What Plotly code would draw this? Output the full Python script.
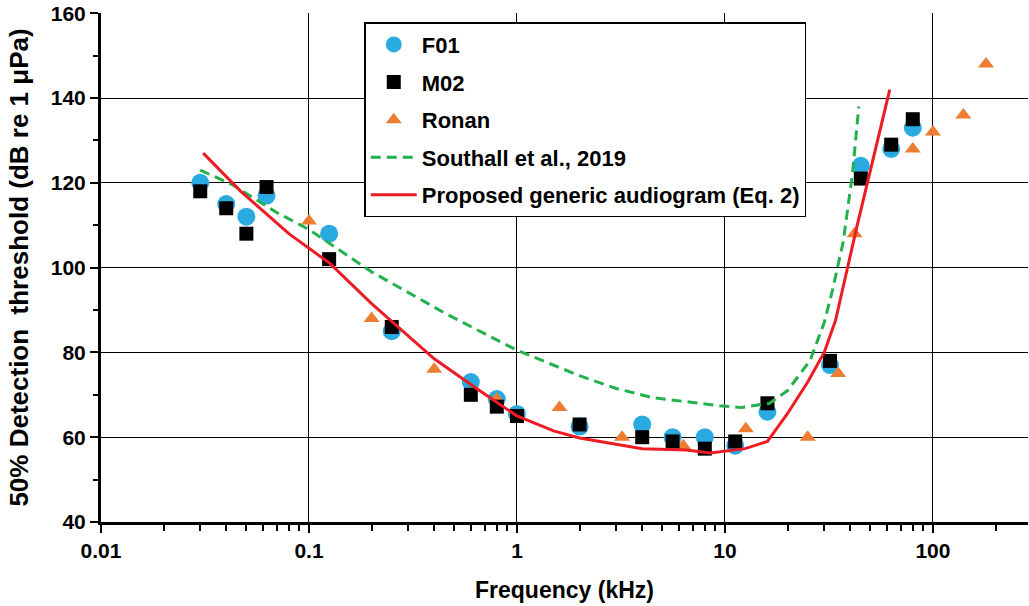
import plotly.graph_objects as go

# ---- data ----
f01_f = [0.03, 0.04, 0.05, 0.0625, 0.125, 0.25, 0.6, 0.8, 1.0, 2.0, 4.0, 5.6, 8.0, 11.2, 16.0, 32.0, 45.0, 63.0, 80.0]
f01_db = [120, 115, 112, 117, 108, 85, 73, 69, 65.5, 62.5, 63, 60, 60, 58, 66, 77, 124, 128, 133]

m02_f = [0.03, 0.04, 0.05, 0.0625, 0.125, 0.25, 0.6, 0.8, 1.0, 2.0, 4.0, 5.6, 8.0, 11.2, 16.0, 32.0, 45.0, 63.0, 80.0]
m02_db = [118, 114, 108, 119, 102, 86, 70, 67.2, 65, 63, 60, 59, 57.3, 59, 68, 78, 121, 129, 135]

ronan_f = [0.1, 0.2, 0.4, 0.8, 1.6, 3.2, 6.3, 12.6, 25, 35, 42, 80, 100, 140, 180]
ronan_db = [111, 88, 76, 69, 67, 60, 58, 62, 60, 75, 108, 128, 132, 136, 148]

southall_f = [0.03, 0.043, 0.07, 0.1, 0.2, 0.46, 1.0, 2.0, 3.0, 4.5, 7.0, 9.4, 12.0, 16.4, 20.0, 25.6, 30.0, 33.0, 37.0, 41.0, 44.0]
southall_db = [123, 119.5, 113, 109, 99, 89, 80.5, 74.5, 71.5, 69.3, 68.2, 67.4, 67, 68, 71, 78, 87, 95, 106, 122, 138]

proposed_f = [0.031, 0.047, 0.08, 0.126, 0.2, 0.4, 0.66, 1.0, 1.5, 2.0, 4.0, 6.5, 8.5, 12.5, 16.0, 20.0, 25.0, 30.0, 34.0, 43.0, 62.0]
proposed_db = [127, 118, 108, 101, 91.5, 78.5, 71, 65, 61.5, 59.8, 57.3, 57, 56.3, 57.3, 59, 65.6, 73, 80, 87.5, 109.5, 142]

x_tickvals = [0.01, 0.1, 1, 10, 100]
x_ticktext = ["0.01", "0.1", "1", "10", "100"]
x_minorvals = [m * d for d in (0.01, 0.1, 1, 10, 100) for m in range(2, 10)]
y_tickvals = [40, 60, 80, 100, 120, 140, 160]
y_minorvals = [50, 70, 90, 110, 130, 150]

FONT = "Liberation Sans"
fig = go.Figure()

fig.add_trace(go.Scatter(x=f01_f, y=f01_db, mode="markers", name="<b>F01</b>",
                         marker=dict(symbol="circle", size=18, color="#29ABE2"),
                         legendrank=1, legendgroup="a"))
fig.add_trace(go.Scatter(x=ronan_f, y=ronan_db, mode="markers", name="<b>Ronan</b>",
                         marker=dict(symbol="triangle-up", size=14, color="#ED7D31"),
                         legendrank=3, legendgroup="c"))
fig.add_trace(go.Scatter(x=m02_f, y=m02_db, mode="markers", name="<b>M02</b>",
                         marker=dict(symbol="square", size=14, color="black"),
                         legendrank=2, legendgroup="b"))
fig.add_trace(go.Scatter(x=southall_f, y=southall_db, mode="lines", name="<b>Southall et al., 2019</b>",
                         line=dict(color="#22B14C", width=3, dash="10px,6px"),
                         legendrank=4, legendgroup="d"))
fig.add_trace(go.Scatter(x=proposed_f, y=proposed_db, mode="lines", name="<b>Proposed generic audiogram (Eq. 2)</b>",
                         line=dict(color="#ED1C24", width=3),
                         legendrank=5, legendgroup="e"))

fig.update_layout(
    width=1029, height=606,
    margin=dict(l=101, r=1, t=13, b=84),
    paper_bgcolor="white", plot_bgcolor="white",
    font=dict(family=FONT, size=21, color="black"),
    showlegend=True,
    legend=dict(x=0.284, y=0.982, xanchor="left", yanchor="top",
                bgcolor="white", bordercolor="black", borderwidth=1.5,
                font=dict(family=FONT, size=22, color="black"),
                tracegroupgap=6, itemwidth=46,
                traceorder="grouped"),
)

fig.update_xaxes(
    type="log", range=[-2, 2.457], automargin=False,
    tickvals=x_tickvals, ticktext=x_ticktext,
    tickfont=dict(family=FONT, size=21, color="black", weight="bold"),
    showgrid=True, gridcolor="black", gridwidth=1,
    showline=True, linecolor="black", linewidth=3,
    ticks="outside", ticklen=8, tickwidth=2, tickcolor="black",
    minor=dict(tickmode="array", tickvals=x_minorvals, ticks="outside", ticklen=6, tickwidth=2,
               tickcolor="black", showgrid=False),
    zeroline=False,
    title=dict(text="<b>Frequency (kHz)</b>", font=dict(family=FONT, size=23, color="black"), standoff=21),
)
fig.update_yaxes(
    range=[40, 160.05], automargin=False,
    tickvals=y_tickvals, ticklabeloverflow="allow",
    tickfont=dict(family=FONT, size=21, color="black", weight="bold"),
    showgrid=True, gridcolor="black", gridwidth=1,
    showline=True, linecolor="black", linewidth=3,
    ticks="outside", ticklen=8, tickwidth=2, tickcolor="black",
    minor=dict(tickmode="array", tickvals=y_minorvals, ticks="outside", ticklen=5, tickwidth=2,
               tickcolor="black", showgrid=False),
    zeroline=False,
    title=dict(text="<b>50% Detection  threshold (dB re 1 μPa)</b>", font=dict(family=FONT, size=26, color="black"), standoff=15),
)

fig.write_html(
    "out.html",
    config={"displayModeBar": False},
    post_script="document.body.style.margin='0';document.body.style.overflow='hidden';",
)
